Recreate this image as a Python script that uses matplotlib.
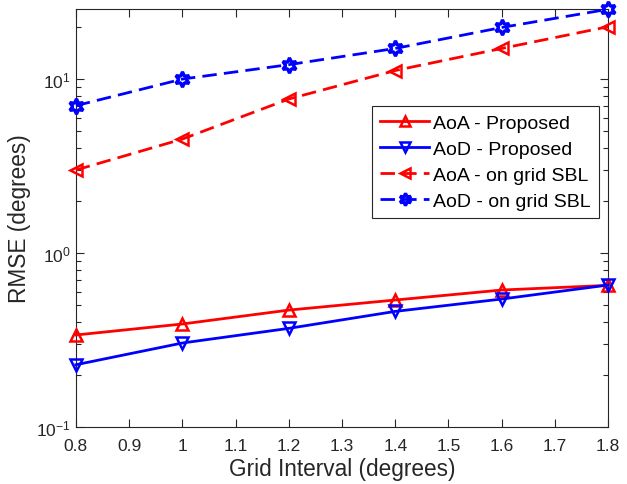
import matplotlib
matplotlib.use("Agg")
import matplotlib.pyplot as plt
import numpy as np
from matplotlib.ticker import LogLocator, FixedLocator, NullFormatter

plt.rcParams['font.family'] = ['Liberation Sans', 'DejaVu Sans']
plt.rcParams['mathtext.fontset'] = 'custom'
plt.rcParams['mathtext.rm'] = 'Liberation Sans'
plt.rcParams['mathtext.it'] = 'Liberation Sans:italic'

grid_interval = [0.8, 1.0, 1.2, 1.4, 1.6, 1.8]
aoa_proposed = [0.338, 0.391, 0.470, 0.537, 0.613, 0.652]
aod_proposed = [0.228, 0.304, 0.369, 0.462, 0.544, 0.655]
aoa_sbl = [3.0, 4.52, 7.68, 11.2, 15.0, 20.0]
aod_sbl = [7.03, 10.0, 12.1, 15.0, 19.8, 25.2]
labels = ["AoA - Proposed", "AoD - Proposed", "AoA - on grid SBL", "AoD - on grid SBL"]
xticks = [0.8, 0.9, 1.0, 1.1, 1.2, 1.3, 1.4, 1.5, 1.6, 1.7, 1.8]
xticklabels = ["0.8", "0.9", "1", "1.1", "1.2", "1.3", "1.4", "1.5", "1.6", "1.7", "1.8"]

fig = plt.figure(figsize=(6.27, 4.85), dpi=100)
ax = fig.add_axes([0.121, 0.1175, 0.849, 0.862])

lw = 2.0
ms = 9
mew = 1.8
dash = (5.2, 2.6)
ax.plot(grid_interval, aoa_proposed, '-', color='red', lw=lw, marker='^', ms=ms,
        mfc='none', mew=mew, label=labels[0], clip_on=False, zorder=3)
ax.plot(grid_interval, aod_proposed, '-', color='blue', lw=lw, marker='v', ms=ms,
        mfc='none', mew=mew, label=labels[1], clip_on=False, zorder=3)
ax.plot(grid_interval, aoa_sbl, '--', color='red', lw=lw, marker='<', ms=ms,
        mfc='none', mew=mew, label=labels[2], dashes=dash, clip_on=False, zorder=3)
ax.plot(grid_interval, aod_sbl, '--', color='blue', lw=lw, marker=(6, 1, 0), ms=ms + 2,
        mfc='none', mew=2.4, label=labels[3], dashes=dash, clip_on=False, zorder=3)

ax.set_yscale('log')
ax.set_xlim(0.8, 1.8)
ax.set_ylim(0.1, 25.3)
ax.xaxis.set_major_locator(FixedLocator(xticks))
ax.set_xticklabels(xticklabels)
ax.yaxis.set_major_locator(LogLocator(base=10, numticks=10))
ax.yaxis.set_minor_locator(LogLocator(base=10, subs=np.arange(2, 10), numticks=10))
ax.yaxis.set_minor_formatter(NullFormatter())

tc = '#262626'
for s in ax.spines.values():
    s.set_color(tc)
    s.set_linewidth(0.8)
ax.tick_params(which='both', direction='in', top=True, right=True, colors=tc,
               labelsize=12.5, width=0.8)
ax.tick_params(which='major', length=6)
ax.tick_params(which='minor', length=3.5)
ax.tick_params(axis='x', pad=8)

ax.set_xlabel("Grid Interval (degrees)", fontsize=16.3, color=tc, labelpad=3)
ax.set_ylabel("RMSE (degrees)", fontsize=16.3, color=tc, labelpad=4)

leg = ax.legend(loc='upper right', bbox_to_anchor=(0.983, 0.768), fontsize=14,
                frameon=True, fancybox=False, edgecolor=tc, framealpha=1,
                handlelength=2.5, handletextpad=0.2, borderpad=0.45, labelspacing=0.42,
                borderaxespad=0, markerscale=0.8)
leg.get_frame().set_linewidth(0.8)

fig.savefig("out.png", dpi=100)
